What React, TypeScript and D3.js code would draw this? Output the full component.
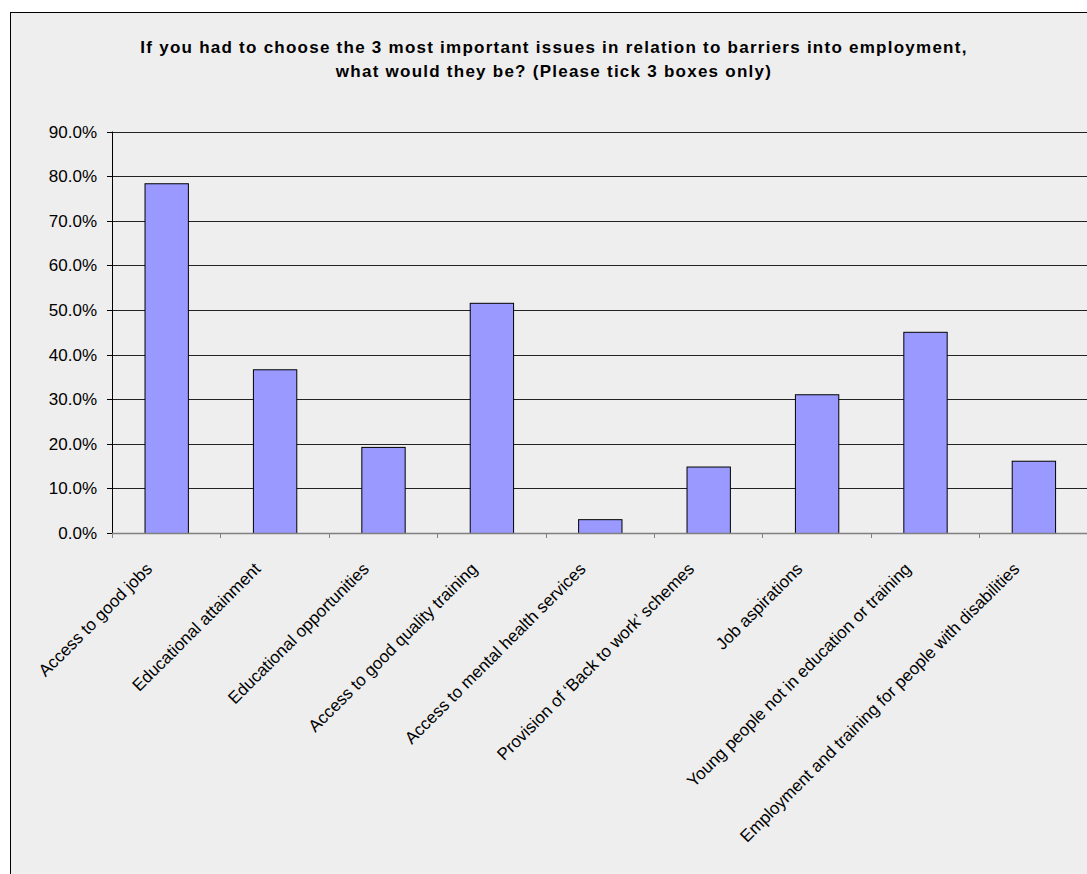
import React from "react";
import * as d3 from "d3";

const categories = [
  "Access to good jobs",
  "Educational attainment",
  "Educational opportunities",
  "Access to good quality training",
  "Access to mental health services",
  "Provision of \u2018Back to work\u2019 schemes",
  "Job aspirations",
  "Young people not in education or training",
  "Employment and training for people with disabilities",
];
const values = [78.4, 36.7, 19.3, 51.6, 3.1, 14.9, 31.1, 45.1, 16.2];
const yTicks = [0, 10, 20, 30, 40, 50, 60, 70, 80, 90];
const titleLines = [
  "If you had to choose the 3 most important issues in relation to barriers into employment,",
  "what would they be? (Please tick 3 boxes only)",
];

const W = 1087;
const H = 874;
const FONT = "'Liberation Sans', Arial, sans-serif";

export default function App() {
  const plotLeft = 112;
  const plotRight = 1087.6;
  const plotTop = 131.5;
  const plotBottom = 533;
  const x = d3.scaleBand<string>().domain(categories).range([plotLeft, plotRight]).padding(0);
  const y = d3.scaleLinear().domain([0, 90]).range([plotBottom, plotTop]);
  const bw = x.bandwidth();
  const boundaries = d3.range(categories.length + 1).map((i) => plotLeft + i * bw);

  return (
    <svg width={W} height={H} style={{ position: "absolute", left: 0, top: 0 }} fontFamily={FONT}>
      <rect x={0} y={0} width={W} height={H} fill="#ffffff" />
      <rect x={10.5} y={12.5} width={W + 20} height={H + 20} fill="#eeeeee" stroke="#000" strokeWidth={1} />
      {titleLines.map((t, i) => (
        <text
          key={i}
          x={554}
          y={52.5 + i * 24}
          textAnchor="middle"
          fontWeight="bold"
          fontSize={17}
          letterSpacing={1.25}
          fill="#000"
        >
          {t}
        </text>
      ))}
      {/* gridlines */}
      {yTicks.filter((t) => t > 0).map((t) => (
        <line key={t} x1={plotLeft} x2={plotRight} y1={Math.round(y(t)) + 0.5} y2={Math.round(y(t)) + 0.5} stroke="#222" strokeWidth={1} />
      ))}
      {/* y ticks and labels */}
      {yTicks.map((t) => (
        <g key={t}>
          <line x1={plotLeft - 5} x2={plotLeft} y1={Math.round(y(t)) + 0.5} y2={Math.round(y(t)) + 0.5} stroke="#000" />
          <text x={97} y={y(t) + 6} textAnchor="end" fontSize={17} fill="#000">
            {t.toFixed(1) + "%"}
          </text>
        </g>
      ))}
      {/* bars */}
      {categories.map((c, i) => (
        <rect
          key={c}
          x={(x(c) as number) + bw * 0.3 + 0.5}
          y={y(values[i]) + 0.5}
          width={bw * 0.4}
          height={plotBottom - y(values[i])}
          fill="#9999ff"
          stroke="#000"
          strokeWidth={1}
        />
      ))}
      {/* axes */}
      <line x1={plotLeft + 0.5} x2={plotLeft + 0.5} y1={plotTop} y2={plotBottom} stroke="#000" />
      <line x1={plotLeft} x2={plotRight} y1={plotBottom + 0.5} y2={plotBottom + 0.5} stroke="#808080" strokeWidth={1.5} />
      {boundaries.map((b, i) => (
        <line key={i} x1={Math.round(b) + 0.5} x2={Math.round(b) + 0.5} y1={plotBottom} y2={plotBottom + 5} stroke="#808080" />
      ))}
      {/* x labels */}
      {categories.map((c) => {
        const cx = (x(c) as number) + bw / 2 - 13;
        const cy = plotBottom + 37;
        return (
          <text key={c} x={cx} y={cy} textAnchor="end" fontSize={17} fill="#000" transform={`rotate(-45 ${cx} ${cy})`}>
            {c}
          </text>
        );
      })}
    </svg>
  );
}
